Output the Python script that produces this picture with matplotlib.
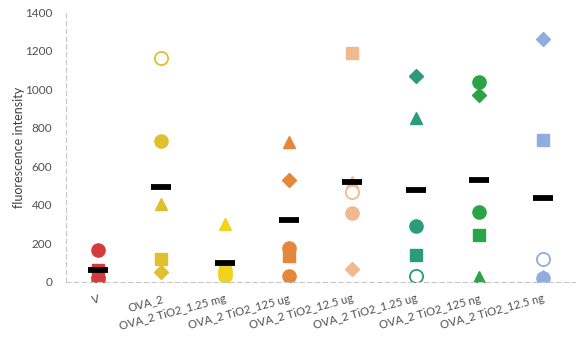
import numpy as np
import matplotlib
matplotlib.use("Agg")
import matplotlib.pyplot as plt

plt.rcParams['font.family'] = ['Lato', 'DejaVu Sans']

# groups along the x axis
groups = ["V", "OVA_2", "OVA_2 TiO2_1.25 mg", "OVA_2 TiO2_125 ug",
          "OVA_2 TiO2_12.5 ug", "OVA_2 TiO2_1.25 ug", "OVA_2 TiO2_125 ng",
          "OVA_2 TiO2_12.5 ng"]
colors = ["#d63b3b", "#e0c02c", "#f1d21c", "#e5873a",
          "#f0b98e", "#2a9c7c", "#2ba448", "#8eaee0"]

# one value per animal, same order of markers in each group
# (filled circle, square, triangle, diamond, open circle)
circle_vals = [166, 732, 55, 175, 358, 292, 1037, 20]
square_vals = [60, 119, 70, 135, 1190, 140, 244, 738]
triangle_vals = [45, 405, 301, 727, 520, 850, 27, 30]
diamond_vals = [25, 52, 40, 530, 67, 1066, 971, 1262]
open_vals = [15, 1164, 30, 31, 467, 31, 365, 118]
open_filled = [True, False, True, True, False, False, True, False]

fig = plt.figure(figsize=(5.76, 3.49), dpi=100)
ax = fig.add_axes([0.1146, 0.192, 0.8834, 0.7736])

x = np.arange(len(groups))
ms = 9.5
for i in x:
    c = colors[i]
    ax.plot(i, circle_vals[i], 'o', color=c, ms=ms, mec=c)
    ax.plot(i, square_vals[i], 's', color=c, ms=ms * 0.95, mec=c)
    ax.plot(i, triangle_vals[i], '^', color=c, ms=ms * 0.85, mec=c)
    ax.plot(i, diamond_vals[i], 'D', color=c, ms=ms * 0.72, mec=c)
    if open_filled[i]:
        ax.plot(i, open_vals[i], 'o', color=c, ms=ms, mec=c)
    else:
        ax.plot(i, open_vals[i], 'o', mfc='white', mec=c, ms=ms, mew=1.3)

# group means as black bars
means = np.mean([circle_vals, square_vals, triangle_vals, diamond_vals, open_vals], axis=0)
ax.plot(x, means, '_', color='black', ms=15, mew=4.2, linestyle='none')

ax.set_xlim(-0.5, len(groups) - 0.5)
ax.set_ylim(0, 1400)
ax.set_yticks(np.arange(0, 1401, 200))
ax.set_xticks(x)
ax.set_xticklabels(groups, rotation=15, ha='right', rotation_mode='anchor',
                   fontsize=8.2, color='#404040')
ax.tick_params(axis='both', length=0, labelcolor='#505050')
ax.tick_params(axis='y', labelsize=8.5, pad=10)
ax.tick_params(axis='x', pad=8)
ax.set_ylabel("fluorescence intensity", fontsize=9, color='#404040', labelpad=0)

for s in ['top', 'right']:
    ax.spines[s].set_visible(False)
for s in ['left', 'bottom']:
    ax.spines[s].set_color('#c8c8c8')
    ax.spines[s].set_linestyle((0, (4, 3)))
    ax.spines[s].set_linewidth(0.8)

fig.savefig("out.png", dpi=100)
